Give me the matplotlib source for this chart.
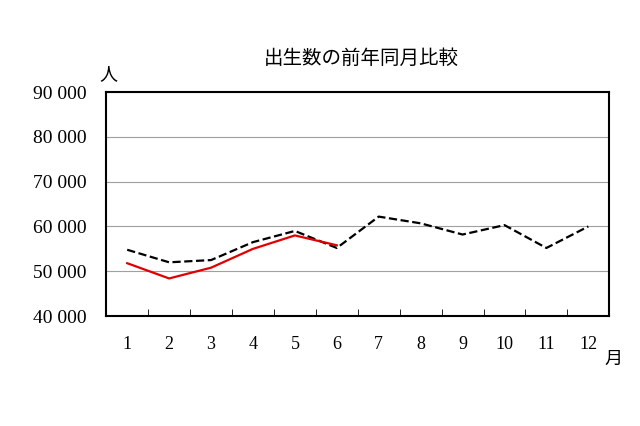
import matplotlib
matplotlib.use("Agg")
import matplotlib.pyplot as plt
import numpy as np

plt.rcParams["font.family"] = ["Noto Sans CJK JP", "DejaVu Sans"]

months = list(range(1, 13))
prev_year = [54800, 52000, 52500, 56500, 59000, 55200, 62200, 60700, 58200, 60300, 55200, 60000]
this_year = [51800, 48400, 50800, 55000, 58000, 55800]
yticks = [40000, 50000, 60000, 70000, 80000, 90000]
ylabels = ["40 000", "50 000", "60 000", "70 000", "80 000", "90 000"]

serif = ["Liberation Serif", "DejaVu Serif"]

fig = plt.figure(figsize=(6.4, 4.26), dpi=100)
ax = fig.add_axes([0.166, 0.258, 0.786, 0.526])
ax.plot(months, prev_year, color="black", ls="--", lw=1.6)
ax.plot(months[:len(this_year)], this_year, color="#e00000", lw=1.6)

ax.set_xlim(0.5, 12.5)
ax.set_ylim(40000, 90000)
ax.set_yticks(yticks)
ax.set_yticklabels(ylabels, fontsize=14, family=serif)
ax.set_xticks(months)
ax.set_xticklabels([str(m) for m in months], fontsize=13, family=serif)
ax.set_xticks(np.arange(1.5, 12.5, 1), minor=True)
ax.tick_params(axis="x", which="major", length=0, pad=14)
ax.tick_params(axis="x", which="minor", length=5, direction="in")
ax.tick_params(axis="y", length=0, pad=14)
ax.grid(axis="y", color="#a0a0a0", lw=0.8)
for s in ax.spines.values():
    s.set_linewidth(1.5)

fig.text(0.565, 0.85, "出生数の前年同月比較", ha="center", fontsize=14)
fig.text(0.155, 0.815, "人", fontsize=13)
fig.text(0.945, 0.145, "月", fontsize=13)

fig.savefig("out.png", dpi=100)
